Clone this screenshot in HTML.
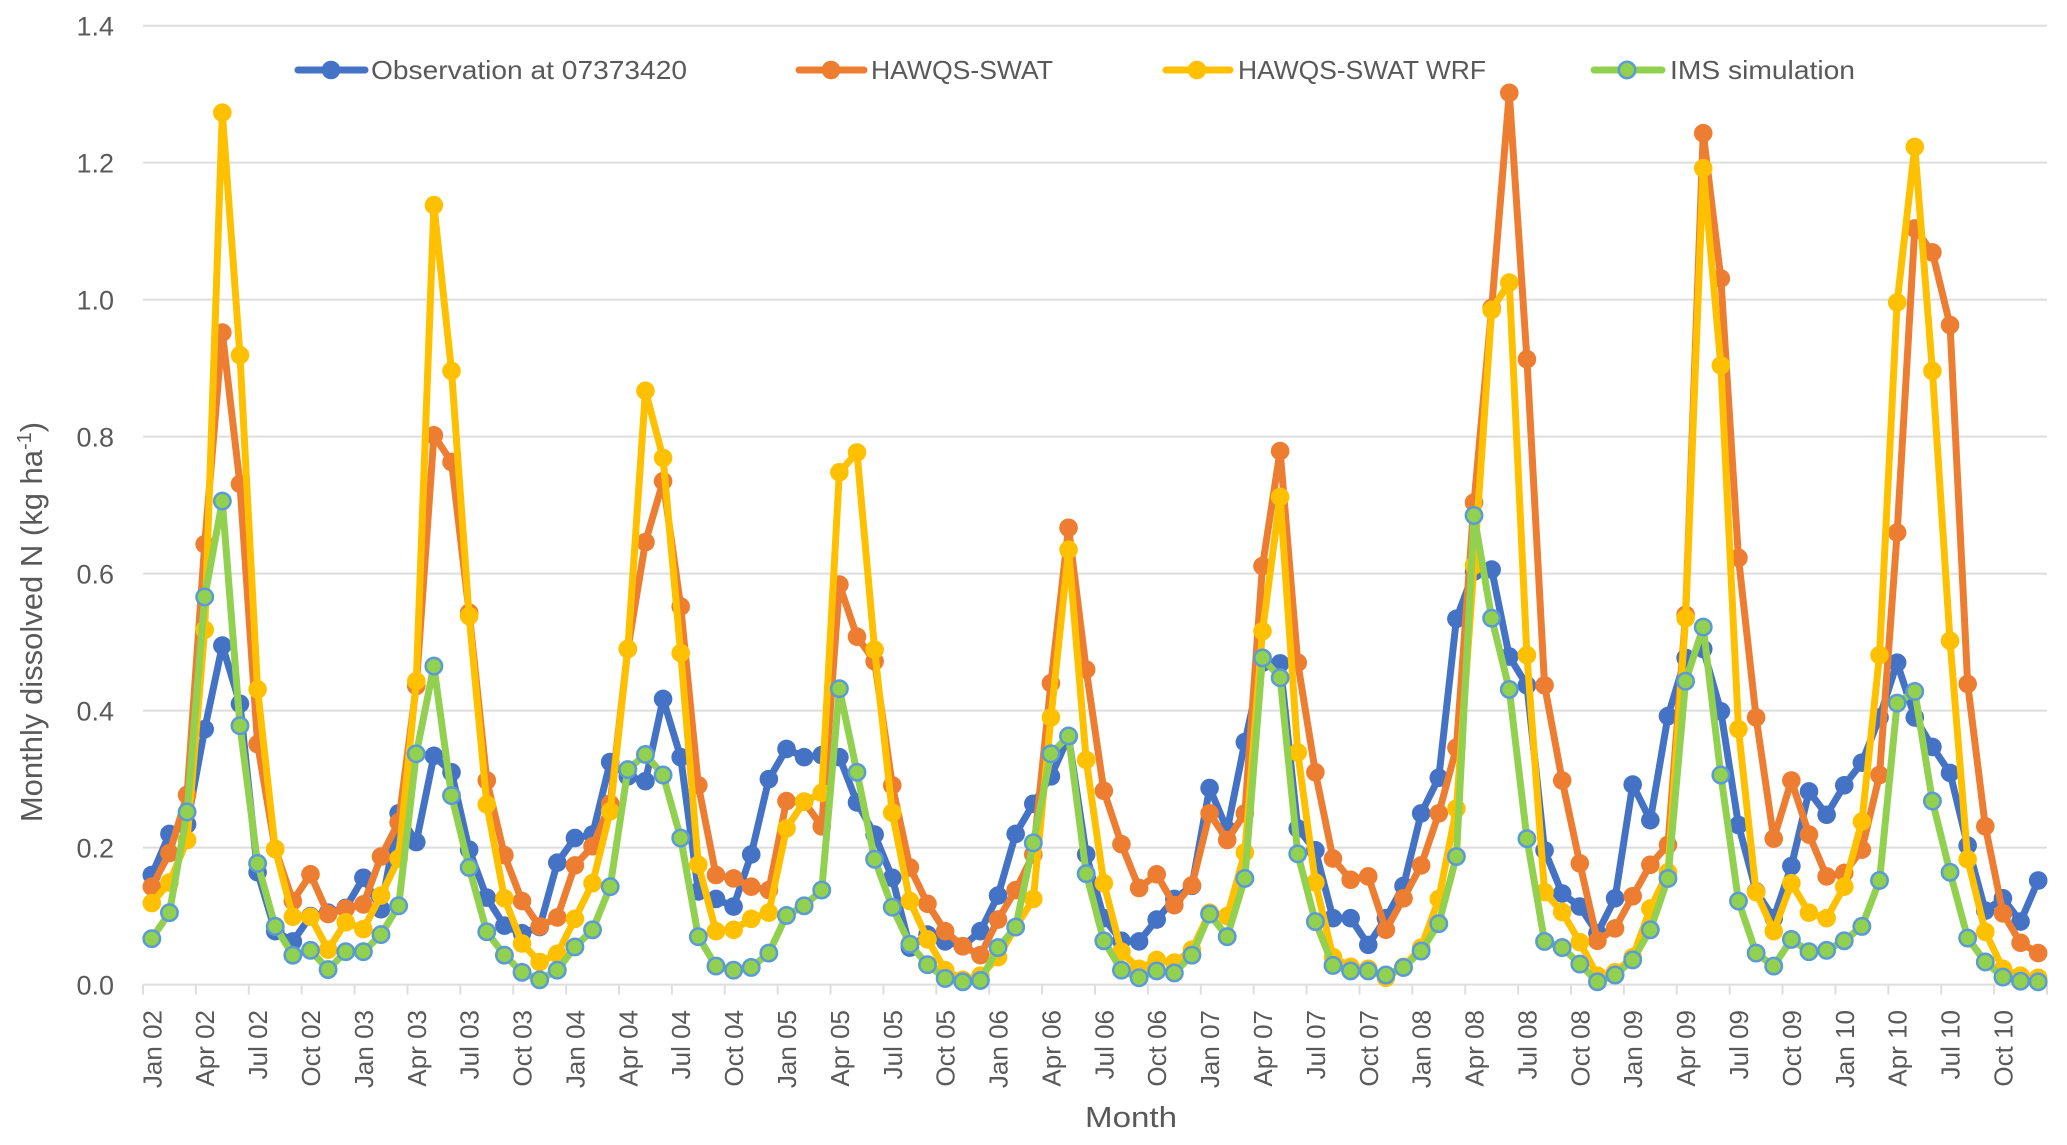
<!DOCTYPE html>
<html lang="en">
<head>
<meta charset="utf-8">
<title>Monthly dissolved N</title>
<style>
  html, body { margin: 0; padding: 0; background: #fff; }
  svg { display: block; font-family: "Liberation Sans", sans-serif; }
  text { fill: #595959; }
</style>
</head>
<body>
<svg id="chart" width="2067" height="1145" viewBox="0 0 2067 1145" xmlns="http://www.w3.org/2000/svg">
  <rect x="0" y="0" width="2067" height="1145" fill="#ffffff"/>
  <g id="grid"></g>
  <g id="axes"></g>
  <g id="series"></g>

  <g>
    <g>
      <line x1="298" y1="70" x2="365" y2="70" stroke="#4472C4" stroke-width="7" stroke-linecap="round"/>
      <circle cx="331" cy="70" r="9.3" fill="#4472C4"/>
      <text x="371" y="79" font-size="26" textLength="316" lengthAdjust="spacingAndGlyphs">Observation at 07373420</text>
    </g>
    <g>
      <line x1="799" y1="70" x2="864" y2="70" stroke="#ED7D31" stroke-width="7" stroke-linecap="round"/>
      <circle cx="831" cy="70" r="9.3" fill="#ED7D31"/>
      <text x="871" y="79" font-size="26" textLength="182" lengthAdjust="spacingAndGlyphs">HAWQS-SWAT</text>
    </g>
    <g>
      <line x1="1166" y1="70" x2="1230" y2="70" stroke="#FFC000" stroke-width="7" stroke-linecap="round"/>
      <circle cx="1197" cy="70" r="9.3" fill="#FFC000"/>
      <text x="1238" y="79" font-size="26" textLength="248" lengthAdjust="spacingAndGlyphs">HAWQS-SWAT WRF</text>
    </g>
    <g>
      <line x1="1594" y1="70" x2="1662" y2="70" stroke="#92D050" stroke-width="7" stroke-linecap="round"/>
      <circle cx="1627" cy="70" r="8.2" fill="#92D050" stroke="#5B9BD5" stroke-width="2.5"/>
      <text x="1670" y="79" font-size="26" textLength="185" lengthAdjust="spacingAndGlyphs">IMS simulation</text>
    </g>
  </g>

  <text x="1131" y="1127" font-size="29" text-anchor="middle" textLength="92" lengthAdjust="spacingAndGlyphs">Month</text>
  <text transform="translate(42,622) rotate(-90)" font-size="31" text-anchor="middle">Monthly dissolved N (kg ha<tspan font-size="20" dy="-11">-1</tspan><tspan dy="11">)</tspan></text>
</svg>

<script>
const observation = [
  0.160,0.220,0.234,0.373,0.495,0.410,0.164,0.078,0.063,0.100,0.105,0.112,
  0.156,0.110,0.250,0.208,0.334,0.310,0.197,0.127,0.086,0.075,0.084,0.178,
  0.214,0.219,0.325,0.304,0.297,0.417,0.332,0.136,0.125,0.114,0.190,0.300,
  0.344,0.332,0.335,0.332,0.266,0.219,0.156,0.054,0.073,0.063,0.056,0.078,
  0.130,0.220,0.264,0.304,0.362,0.190,0.097,0.064,0.063,0.095,0.125,0.144,
  0.287,0.226,0.354,0.470,0.469,0.228,0.196,0.097,0.097,0.058,0.097,0.144,
  0.250,0.302,0.534,0.603,0.606,0.479,0.437,0.196,0.133,0.114,0.075,0.126,
  0.292,0.240,0.392,0.477,0.490,0.399,0.233,0.136,0.097,0.173,0.282,0.248,
  0.291,0.324,0.390,0.470,0.390,0.347,0.309,0.203,0.108,0.126,0.092,0.152
];
const hawqsSwat = [
  0.143,0.192,0.277,0.643,0.952,0.731,0.351,0.198,0.122,0.161,0.103,0.111,
  0.117,0.187,0.237,0.436,0.802,0.763,0.543,0.298,0.189,0.122,0.085,0.098,
  0.174,0.202,0.264,0.490,0.646,0.735,0.552,0.291,0.160,0.155,0.143,0.138,
  0.268,0.267,0.231,0.584,0.508,0.472,0.291,0.171,0.118,0.078,0.056,0.043,
  0.095,0.138,0.190,0.440,0.667,0.460,0.283,0.205,0.141,0.161,0.116,0.145,
  0.250,0.211,0.250,0.611,0.779,0.470,0.310,0.184,0.153,0.158,0.080,0.126,
  0.174,0.250,0.346,0.704,0.988,1.302,0.913,0.437,0.298,0.177,0.064,0.082,
  0.129,0.175,0.204,0.540,1.243,1.031,0.623,0.390,0.213,0.298,0.219,0.158,
  0.163,0.197,0.306,0.660,1.104,1.069,0.963,0.439,0.231,0.104,0.061,0.046
];
const hawqsSwatWrf = [
  0.119,0.149,0.211,0.518,1.273,0.919,0.431,0.198,0.099,0.099,0.051,0.091,
  0.081,0.130,0.184,0.443,1.138,0.896,0.538,0.263,0.126,0.060,0.033,0.045,
  0.096,0.148,0.253,0.490,0.867,0.769,0.484,0.175,0.078,0.080,0.096,0.105,
  0.228,0.267,0.280,0.748,0.777,0.489,0.251,0.122,0.066,0.021,0.007,0.013,
  0.040,0.084,0.125,0.390,0.635,0.328,0.148,0.048,0.023,0.036,0.032,0.051,
  0.105,0.100,0.193,0.516,0.712,0.339,0.149,0.040,0.026,0.023,0.010,0.026,
  0.054,0.125,0.257,0.612,0.985,1.025,0.481,0.135,0.106,0.062,0.013,0.018,
  0.040,0.111,0.164,0.535,1.192,0.904,0.373,0.135,0.078,0.148,0.105,0.097,
  0.143,0.238,0.481,0.996,1.223,0.896,0.502,0.183,0.077,0.023,0.013,0.010
];
const imsSimulation = [
  0.067,0.105,0.252,0.566,0.706,0.378,0.177,0.085,0.043,0.050,0.022,0.048,
  0.048,0.073,0.115,0.337,0.465,0.276,0.171,0.077,0.043,0.018,0.007,0.021,
  0.055,0.080,0.143,0.314,0.336,0.306,0.214,0.070,0.027,0.021,0.025,0.046,
  0.101,0.115,0.138,0.432,0.310,0.183,0.113,0.059,0.029,0.009,0.004,0.006,
  0.054,0.084,0.207,0.337,0.363,0.162,0.064,0.021,0.010,0.020,0.017,0.043,
  0.103,0.070,0.155,0.477,0.448,0.191,0.092,0.028,0.020,0.020,0.014,0.025,
  0.049,0.089,0.187,0.685,0.535,0.431,0.213,0.063,0.054,0.030,0.004,0.014,
  0.036,0.080,0.155,0.443,0.522,0.306,0.122,0.046,0.027,0.066,0.048,0.050,
  0.064,0.085,0.152,0.411,0.428,0.268,0.164,0.068,0.033,0.011,0.005,0.004
];
const xTickLabels = [
  "Jan 02","Apr 02","Jul 02","Oct 02","Jan 03","Apr 03","Jul 03","Oct 03",
  "Jan 04","Apr 04","Jul 04","Oct 04","Jan 05","Apr 05","Jul 05","Oct 05",
  "Jan 06","Apr 06","Jul 06","Oct 06","Jan 07","Apr 07","Jul 07","Oct 07",
  "Jan 08","Apr 08","Jul 08","Oct 08","Jan 09","Apr 09","Jul 09","Oct 09",
  "Jan 10","Apr 10","Jul 10","Oct 10"
];
const yTickValues = [0, 0.2, 0.4, 0.6, 0.8, 1.0, 1.2, 1.4];

const SVG_NS = "http://www.w3.org/2000/svg";
const plotLeft = 143, plotRight = 2047, plotBottom = 984.6, plotTop = 25.7;
const yMax = 1.4, monthsPerTick = 3;
const monthCount = observation.length;
const bandWidth = (plotRight - plotLeft) / monthCount;

function xBand(i) { return plotLeft + bandWidth * i; }
function xScale(i) { return xBand(i) + bandWidth / 2; }
function yScale(v) { return plotBottom - (v / yMax) * (plotBottom - plotTop); }

function make(tag, attrs, parent) {
  const el = document.createElementNS(SVG_NS, tag);
  for (const key in attrs) { el.setAttribute(key, attrs[key]); }
  parent.appendChild(el);
  return el;
}

const gridGroup = document.getElementById("grid");
const axesGroup = document.getElementById("axes");
const seriesGroup = document.getElementById("series");

yTickValues.forEach(function (v) {
  const y = yScale(v);
  if (v > 0) {
    const grid = make("line", { x1: plotLeft, x2: plotRight, y1: y, y2: y, stroke: "#DEDEDE", "stroke-width": 2 }, gridGroup);
    
    
  }
  const label = make("text", { x: 114, y: y + 10, "font-size": 27, "text-anchor": "end" }, axesGroup);
  label.textContent = v.toFixed(1);
  
  
});

const axisLine = make("line", { x1: plotLeft, x2: plotRight, y1: plotBottom, y2: plotBottom, stroke: "#DEDEDE", "stroke-width": 2 }, axesGroup);



for (let i = 0; i <= monthCount; i += monthsPerTick) {
  const tick = make("line", { x1: xBand(i), x2: xBand(i), y1: plotBottom, y2: plotBottom + 10, stroke: "#DEDEDE", "stroke-width": 2 }, axesGroup);
  
  
}

xTickLabels.forEach(function (name, k) {
  const x = xScale(k * monthsPerTick);
  const label = make("text", { transform: "translate(" + (x + 9.5) + ",1010) rotate(-90)", "font-size": 26, "text-anchor": "end" }, axesGroup);
  label.textContent = name;
  
  
});

function drawSeries(values, name, color, markerStroke) {
  const group = make("g", {}, seriesGroup);
  
  
  const points = values.map(function (v, i) { return xScale(i).toFixed(2) + "," + yScale(v).toFixed(2); }).join(" ");
  const line = make("polyline", { points: points, fill: "none", stroke: color, "stroke-width": 7, "stroke-linejoin": "round", "stroke-linecap": "round" }, group);
  
  
  values.forEach(function (v, i) {
    const attrs = markerStroke
      ? { cx: xScale(i), cy: yScale(v), r: 8.2, fill: color, stroke: markerStroke, "stroke-width": 2.5 }
      : { cx: xScale(i), cy: yScale(v), r: 9.3, fill: color };
    const dot = make("circle", attrs, group);
    
    
  });
}

drawSeries(observation, "observation", "#4472C4", null);
drawSeries(hawqsSwat, "hawqs-swat", "#ED7D31", null);
drawSeries(hawqsSwatWrf, "hawqs-swat-wrf", "#FFC000", null);
drawSeries(imsSimulation, "ims-simulation", "#92D050", "#5B9BD5");
</script>
</body>
</html>
